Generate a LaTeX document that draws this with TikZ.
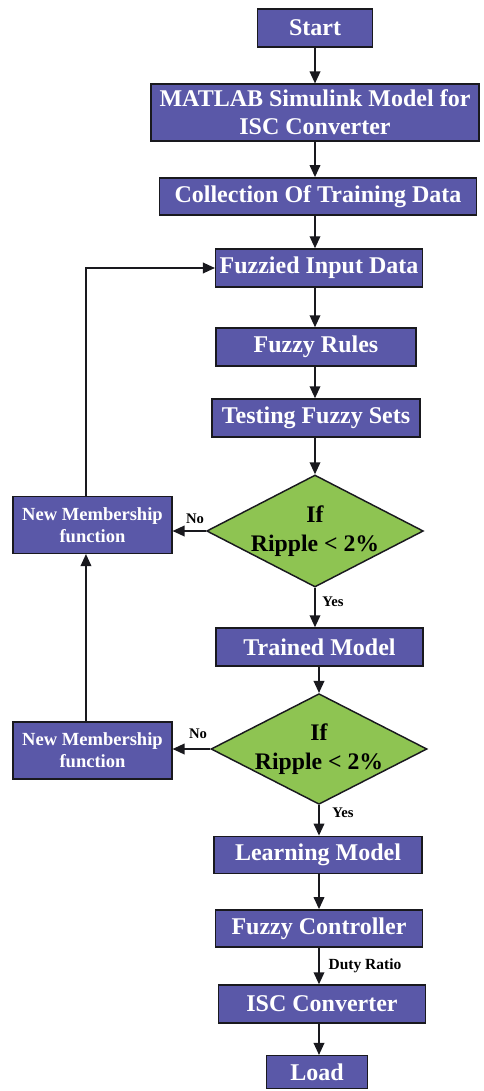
\documentclass[tikz,border=0pt]{standalone}
\usepackage{fontspec}
\setmainfont{Liberation Serif}
\usetikzlibrary{shapes.geometric,arrows.meta}
\definecolor{boxblue}{RGB}{90,88,168}
\definecolor{diagreen}{RGB}{142,196,82}
\definecolor{edge}{RGB}{25,25,30}
\tikzset{
  procbox/.style={draw=edge, line width=1.1pt, fill=boxblue, text=white,
    font=\fontsize{18}{21}\selectfont\bfseries, align=center, inner sep=0pt},
  sidebox/.style={procbox, font=\fontsize{13.9}{16.5}\selectfont\bfseries,
    minimum width=119pt, minimum height=42.5pt},
  decision/.style={diamond, draw=edge, line width=1.1pt, fill=diagreen,
    inner sep=0pt, minimum width=162.5pt, minimum height=84pt},
  decisiontext/.style={font=\fontsize{17.8}{22}\selectfont\bfseries, align=center, text=black},
  arr/.style={draw=edge, line width=1.1pt, -{Triangle[length=9pt,width=8pt]}},
  tag/.style={font=\fontsize{11}{13}\selectfont\bfseries, text=black, inner sep=0pt},
}
\begin{document}
\begin{tikzpicture}[x=0.75pt,y=-0.75pt]
\useasboundingbox (0,0) rectangle (483,1091);

% main chain
\node[procbox, minimum width=86pt, minimum height=28.5pt] (start) at (315,28) {Start};
\node[procbox, minimum width=246pt, minimum height=42.5pt] (matlab) at (315,112.5) {MATLAB Simulink Model for\\ISC Converter};
\node[procbox, minimum width=238pt, minimum height=28pt] (collect) at (318,196.5) {Collection Of Training Data};
\node[procbox, minimum width=155pt, minimum height=28.5pt] (fuzzied) at (319,268) {Fuzzied Input Data};
\node[procbox, minimum width=150pt, minimum height=28.5pt] (rules) at (316,347) {Fuzzy Rules};
\node[procbox, minimum width=156pt, minimum height=28.5pt] (testing) at (316,418) {Testing Fuzzy Sets};

\node[decision] (dia1) at (315,531) {};
\node[decisiontext] at (dia1) {If\\Ripple < 2\%};
\node[sidebox] (nm1) at (92.5,525) {New Membership\\function};

\node[procbox, minimum width=155pt, minimum height=28.5pt] (trained) at (319.5,647) {Trained Model};

\node[decision, minimum width=162pt, minimum height=83pt] (dia2) at (319,749) {};
\node[decisiontext] at (dia2) {If\\Ripple < 2\%};
\node[sidebox] (nm2) at (92.5,750.5) {New Membership\\function};

\node[procbox, minimum width=156pt, minimum height=28pt] (learning) at (318,855) {Learning Model};
\node[procbox, minimum width=155pt, minimum height=28pt] (fuzzyc) at (319,928.5) {Fuzzy Controller};
\node[procbox, minimum width=155pt, minimum height=28.5pt] (isc) at (322,1004) {ISC Converter};
\node[procbox, minimum width=76pt, minimum height=24.5pt] (load) at (317,1072) {Load};

% vertical flow
\draw[arr] (start.south -| dia1) -- (matlab.north -| dia1);
\draw[arr] (matlab.south -| dia1) -- (collect.north -| dia1);
\draw[arr] (collect.south -| dia1) -- (fuzzied.north -| dia1);
\draw[arr] (fuzzied.south -| dia1) -- (rules.north -| dia1);
\draw[arr] (rules.south -| dia1) -- (testing.north -| dia1);
\draw[arr] (testing.south -| dia1) -- (dia1.north);
\draw[arr] (dia1.south) -- (dia1.south |- trained.north);
\draw[arr] (trained.south -| dia2) -- (dia2.north);
\draw[arr] (dia2.south) -- (dia2.south |- learning.north);
\draw[arr] (learning.south -| dia2) -- (fuzzyc.north -| dia2);
\draw[arr] (fuzzyc.south -| dia2) -- (isc.north -| dia2);
\draw[arr] (isc.south -| dia2) -- (load.north -| dia2);

% rejection branches and feedback
\draw[arr] (dia1.west) -- (dia1.west -| nm1.east);
\draw[arr] (dia2.west) -- (dia2.west -| nm2.east);
\draw[arr] ([xshift=-4.9pt]nm1.north) |- (fuzzied.west);
\draw[arr] ([xshift=-4.9pt]nm2.north) -- ([xshift=-4.9pt]nm1.south);

% branch labels
\node[tag] at (195,519) {No};
\node[tag] at (333,602) {Yes};
\node[tag] at (198,734) {No};
\node[tag] at (343,813) {Yes};
\node[tag, font=\fontsize{11.6}{14}\selectfont\bfseries] at (365,966) {Duty Ratio};
\end{tikzpicture}
\end{document}
